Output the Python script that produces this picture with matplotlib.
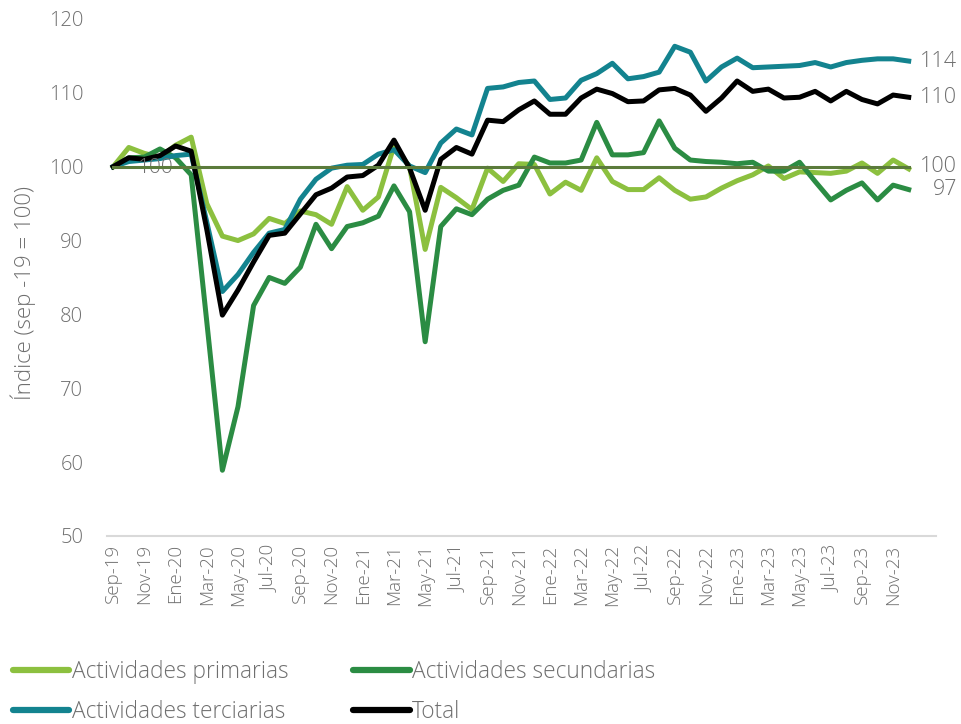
import matplotlib
matplotlib.use("Agg")
import matplotlib.pyplot as plt
from matplotlib.transforms import blended_transform_factory

plt.rcParams['font.family'] = ['Open Sans', 'DejaVu Sans']

# months Sep-19 .. Dec-23
month_names = ['Ene', 'Feb', 'Mar', 'Abr', 'May', 'Jun',
               'Jul', 'Ago', 'Sep', 'Oct', 'Nov', 'Dic']
months = []
for year in range(19, 24):
    for m, name in enumerate(month_names):
        if year == 19 and m < 8:
            continue
        months.append(f"{name}-{year}")

primarias = [100.0, 102.6, 101.8, 101.3, 102.9, 104.0, 95.0, 90.6, 90.0, 90.9,
             93.0, 92.3, 94.0, 93.5, 92.2, 97.3, 94.1, 95.9, 102.8, 100.0,
             88.8, 97.2, 95.8, 94.2, 99.8, 98.0, 100.4, 100.3, 96.3, 97.9,
             96.8, 101.2, 98.0, 96.9, 96.9, 98.5, 96.8, 95.6, 95.9, 97.1,
             98.1, 98.9, 100.1, 98.4, 99.3, 99.2, 99.1, 99.4, 100.5, 99.1,
             100.9, 99.7]
secundarias = [100.0, 101.2, 101.3, 102.4, 101.2, 98.9, 79.0, 58.9, 67.5, 81.2,
               85.0, 84.2, 86.4, 92.2, 88.9, 91.9, 92.4, 93.3, 97.4, 93.9,
               76.3, 91.9, 94.3, 93.5, 95.6, 96.8, 97.5, 101.3, 100.5, 100.5,
               100.9, 106.0, 101.6, 101.6, 101.9, 106.2, 102.5, 100.9, 100.7, 100.6,
               100.4, 100.6, 99.4, 99.4, 100.6, 98.0, 95.5, 96.8, 97.8, 95.5,
               97.5, 96.9]
terciarias = [100.0, 100.7, 100.9, 101.1, 101.5, 101.7, 92.5, 83.1, 85.4, 88.4,
              91.0, 91.5, 95.6, 98.3, 99.8, 100.2, 100.3, 101.7, 102.3, 100.1,
              99.2, 103.2, 105.1, 104.3, 110.6, 110.8, 111.4, 111.6, 109.1, 109.3,
              111.7, 112.6, 114.0, 111.9, 112.2, 112.8, 116.3, 115.5, 111.6, 113.5,
              114.7, 113.4, 113.5, 113.6, 113.7, 114.1, 113.5, 114.1, 114.4, 114.6,
              114.6, 114.3]
total = [100.0, 101.2, 101.0, 101.5, 102.8, 102.1, 91.5, 79.9, 83.3, 87.1,
         90.7, 91.0, 93.6, 96.2, 97.1, 98.6, 98.8, 100.2, 103.6, 99.8,
         94.1, 101.0, 102.6, 101.7, 106.3, 106.1, 107.7, 108.9, 107.1, 107.1,
         109.3, 110.5, 109.9, 108.8, 108.9, 110.4, 110.6, 109.7, 107.5, 109.3,
         111.6, 110.2, 110.5, 109.3, 109.4, 110.2, 108.9, 110.2, 109.1, 108.5,
         109.7, 109.4]
base = 100
end_labels = ['114', '110', '100', '97']
end_values = [114.3, 109.4, 100.0, 96.9]

gray = '#6f6f6f'
x = list(range(len(months)))

fig = plt.figure(figsize=(9.61, 7.24), dpi=100)
ax = fig.add_axes([0.1113, 0.2597, 0.8627, 0.7141])

l1, = ax.plot(x, primarias, color='#8cc03f', lw=3.6, label='Actividades primarias')
l2, = ax.plot(x, secundarias, color='#2b8c43', lw=3.6, label='Actividades secundarias')
l3, = ax.plot(x, terciarias, color='#13838f', lw=3.6, label='Actividades terciarias')
l4, = ax.plot(x, total, color='black', lw=3.6, label='Total')
ax.plot([x[0], x[-1]], [base, base], color='#5b7b3b', lw=2.2, zorder=5)

ax.annotate('100', (x[0], base), xytext=(31, -1), textcoords='offset points',
            ha='center', va='center', fontsize=15, color=gray, fontweight='light')

trans = blended_transform_factory(fig.transFigure, ax.transData)
for lab, v in zip(end_labels, end_values):
    ax.text(0.996, v, lab, transform=trans, ha='right', va='center',
            fontsize=15.5, color=gray, fontweight='light')

ax.set_xlim(-0.4, 52.75)
ax.set_ylim(50, 120)
ax.set_yticks(range(50, 121, 10))
ax.set_xticks(x[::2])
ax.set_xticklabels(months[::2], rotation=90)
ax.tick_params(axis='both', length=0, colors=gray, labelsize=14.5)
ax.tick_params(axis='y', pad=17)
ax.tick_params(axis='x', pad=6, labelsize=13.5)
for lbl in ax.get_xticklabels() + ax.get_yticklabels():
    lbl.set_fontweight('light')

for s in ['top', 'right', 'left']:
    ax.spines[s].set_visible(False)
ax.spines['bottom'].set_color('#d9d9d9')
ax.spines['bottom'].set_linewidth(1.5)

ax.set_ylabel('Índice (sep -19 = 100)', fontsize=16, color=gray, fontweight='light', labelpad=9)
ax.yaxis.label.set_y(0.47)

# row-wise order: primarias, secundarias / terciarias, total
leg = fig.legend([l1, l3, l2, l4], [l.get_label() for l in [l1, l3, l2, l4]],
                 loc='upper left', bbox_to_anchor=(0.004, 0.101), ncol=2, frameon=False,
                 fontsize=16.3, handlelength=2.5, handletextpad=0.1, columnspacing=2.85,
                 labelspacing=0.72, borderaxespad=0)
for t in leg.get_texts():
    t.set_color(gray)
    t.set_fontweight('light')
for h in leg.get_lines():
    h.set_linewidth(4.5)
    h.set_solid_capstyle('round')

fig.savefig('out.png', dpi=100)
